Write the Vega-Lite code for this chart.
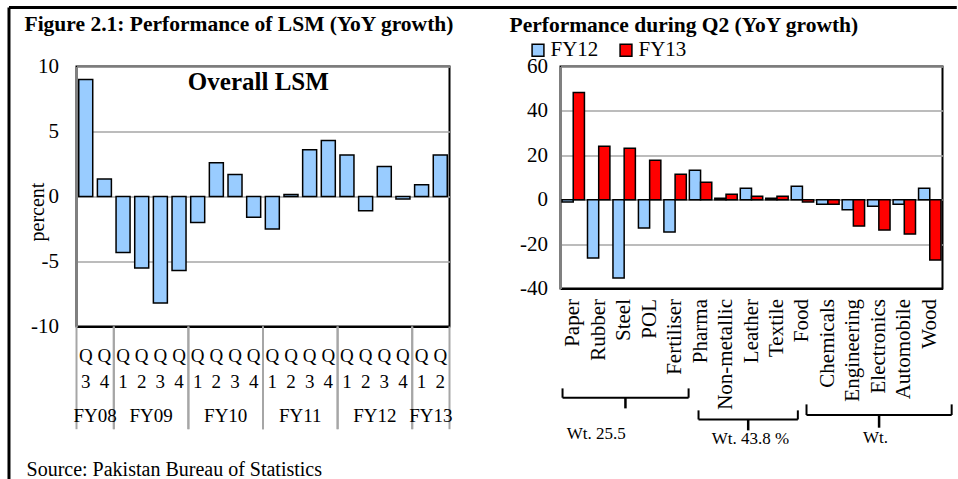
{
  "$schema": "https://vega.github.io/schema/vega-lite/v6.json",
  "padding": {"left": 5.5, "top": 4.5, "right": 0, "bottom": 0},
  "bounds": "flush",
  "spacing": 111,
  "background": "white",
  "resolve": {"legend": {"color": "independent"}},
  "config": {
    "font": "Liberation Serif",
    "view": {"stroke": "black", "strokeWidth": 2},
    "axis": {"labelFont": "Liberation Serif", "labelColor": "black", "titleFont": "Liberation Serif", "titleFontWeight": "normal", "titleColor": "black", "ticks": false, "domain": false},
    "legend": {"labelFont": "Liberation Serif", "labelColor": "black"},
    "title": {"font": "Liberation Serif", "fontWeight": "bold", "color": "black", "fontSize": 21.5, "anchor": "start", "frame": "group", "baseline": "bottom"}
  },
  "datasets": {
    "lsm": [
      {"period": "FY08 Q3", "growth": 9.0},
      {"period": "FY08 Q4", "growth": 1.35},
      {"period": "FY09 Q1", "growth": -4.3},
      {"period": "FY09 Q2", "growth": -5.5},
      {"period": "FY09 Q3", "growth": -8.2},
      {"period": "FY09 Q4", "growth": -5.7},
      {"period": "FY10 Q1", "growth": -2.0},
      {"period": "FY10 Q2", "growth": 2.6},
      {"period": "FY10 Q3", "growth": 1.7},
      {"period": "FY10 Q4", "growth": -1.6},
      {"period": "FY11 Q1", "growth": -2.5},
      {"period": "FY11 Q2", "growth": 0.15},
      {"period": "FY11 Q3", "growth": 3.6},
      {"period": "FY11 Q4", "growth": 4.3},
      {"period": "FY12 Q1", "growth": 3.2},
      {"period": "FY12 Q2", "growth": -1.1},
      {"period": "FY12 Q3", "growth": 2.3},
      {"period": "FY12 Q4", "growth": -0.2},
      {"period": "FY13 Q1", "growth": 0.9},
      {"period": "FY13 Q2", "growth": 3.2}
    ],
    "fygroups": [
      {"fy": "FY08", "from": 0, "to": 2, "mid": 1},
      {"fy": "FY09", "from": 2, "to": 6, "mid": 4},
      {"fy": "FY10", "from": 6, "to": 10, "mid": 8},
      {"fy": "FY11", "from": 10, "to": 14, "mid": 12},
      {"fy": "FY12", "from": 14, "to": 18, "mid": 16},
      {"fy": "FY13", "from": 18, "to": 20, "mid": 19}
    ],
    "q2": [
      {"industry": "Paper", "year": "FY12", "growth": -1.0},
      {"industry": "Paper", "year": "FY13", "growth": 48.3},
      {"industry": "Rubber", "year": "FY12", "growth": -26.3},
      {"industry": "Rubber", "year": "FY13", "growth": 24.1},
      {"industry": "Steel", "year": "FY12", "growth": -35.3},
      {"industry": "Steel", "year": "FY13", "growth": 23.2},
      {"industry": "POL", "year": "FY12", "growth": -12.8},
      {"industry": "POL", "year": "FY13", "growth": 17.8},
      {"industry": "Fertiliser", "year": "FY12", "growth": -14.6},
      {"industry": "Fertiliser", "year": "FY13", "growth": 11.5},
      {"industry": "Pharma", "year": "FY12", "growth": 13.3},
      {"industry": "Pharma", "year": "FY13", "growth": 7.9},
      {"industry": "Non-metallic", "year": "FY12", "growth": 0.7},
      {"industry": "Non-metallic", "year": "FY13", "growth": 2.5},
      {"industry": "Leather", "year": "FY12", "growth": 5.2},
      {"industry": "Leather", "year": "FY13", "growth": 1.6},
      {"industry": "Textile", "year": "FY12", "growth": 0.7},
      {"industry": "Textile", "year": "FY13", "growth": 1.6},
      {"industry": "Food", "year": "FY12", "growth": 6.1},
      {"industry": "Food", "year": "FY13", "growth": -1.0},
      {"industry": "Chemicals", "year": "FY12", "growth": -2.0},
      {"industry": "Chemicals", "year": "FY13", "growth": -2.0},
      {"industry": "Engineering", "year": "FY12", "growth": -4.5},
      {"industry": "Engineering", "year": "FY13", "growth": -11.9},
      {"industry": "Electronics", "year": "FY12", "growth": -2.9},
      {"industry": "Electronics", "year": "FY13", "growth": -13.7},
      {"industry": "Automobile", "year": "FY12", "growth": -2.0},
      {"industry": "Automobile", "year": "FY13", "growth": -15.5},
      {"industry": "Wood", "year": "FY12", "growth": 5.2},
      {"industry": "Wood", "year": "FY13", "growth": -27.2}
    ],
    "braces": [
      {"label": "Wt. 25.5", "start": 0.08, "end": 5.03, "mid": 2.55, "top": -85.0, "line": -89.2, "bot": -94.0, "lx": 1.4, "ly": -105.7},
      {"label": "Wt. 43.8 %", "start": 5.42, "end": 9.32, "mid": 7.37, "top": -94.9, "line": -99.0, "bot": -103.9, "lx": 7.46, "ly": -108.0},
      {"label": "Wt.", "start": 9.66, "end": 15.36, "mid": 12.51, "top": -92.2, "line": -97.0, "bot": -102.7, "lx": 12.37, "ly": -107.2}
    ],
    "one": [{}]
  },
  "hconcat": [
    {
      "width": 373,
      "height": 260,
      "title": {"text": "Figure 2.1: Performance of LSM (YoY growth)", "dx": -52, "offset": -30},
      "resolve": {"scale": {"x": "independent"}, "axis": {"x": "independent"}},
      "layer": [
        {
          "data": {"name": "lsm"},
          "mark": {"type": "bar", "fill": "#99CCFF", "stroke": "black", "strokeWidth": 1.5},
          "encoding": {
            "x": {"field": "period", "type": "nominal", "sort": null,
              "scale": {"paddingInner": 0.25, "paddingOuter": 0.12},
              "axis": {"title": null, "labelAngle": 0, "labelExpr": "['Q', substring(datum.value, 6, 7)]", "labelFontSize": 19, "labelLineHeight": 26, "labelPadding": 20, "domain": true, "domainColor": "black", "domainWidth": 2}},
            "y": {"field": "growth", "type": "quantitative",
              "scale": {"domain": [-10, 10], "nice": false},
              "axis": {"title": "percent", "values": [-10, -5, 0, 5, 10], "labelExpr": "'' + datum.value", "grid": true, "gridColor": "#a6a6a6", "gridWidth": 1.5, "labelFontSize": 21, "labelPadding": 18, "titleFontSize": 20, "titleX": -39, "titleY": 145, "titleBaseline": "middle", "domain": true, "domainColor": "#808080", "domainWidth": 2}}
          }
        },
        {
          "data": {"name": "fygroups"},
          "mark": {"type": "rule", "color": "#a6a6a6", "strokeWidth": 2},
          "encoding": {
            "x": {"field": "from", "type": "quantitative", "scale": {"domain": [0, 20], "nice": false}, "axis": null},
            "y": {"datum": -10, "scale": {"domain": [-10, 10], "nice": false}},
            "y2": {"datum": -17.9}
          }
        },
        {
          "data": {"name": "fygroups"},
          "mark": {"type": "rule", "color": "#a6a6a6", "strokeWidth": 2},
          "encoding": {
            "x": {"field": "to", "type": "quantitative", "scale": {"domain": [0, 20], "nice": false}, "axis": null},
            "y": {"datum": -10, "scale": {"domain": [-10, 10], "nice": false}},
            "y2": {"datum": -17.9}
          }
        },
        {
          "data": {"name": "fygroups"},
          "mark": {"type": "text", "fontSize": 19, "baseline": "middle", "color": "black"},
          "encoding": {
            "x": {"field": "mid", "type": "quantitative", "scale": {"domain": [0, 20], "nice": false}, "axis": null},
            "y": {"datum": -16.9, "scale": {"domain": [-10, 10], "nice": false}},
            "text": {"field": "fy"}
          }
        },
        {
          "data": {"name": "one"},
          "mark": {"type": "text", "fontSize": 25, "fontWeight": "bold", "baseline": "middle", "color": "black"},
          "encoding": {
            "x": {"datum": 9.75, "type": "quantitative", "scale": {"domain": [0, 20], "nice": false}, "axis": null},
            "y": {"datum": 8.77, "scale": {"domain": [-10, 10], "nice": false}},
            "text": {"value": "Overall LSM"}
          }
        },
        {
          "data": {"name": "one"},
          "mark": {"type": "text", "fontSize": 20, "baseline": "middle", "align": "left", "color": "black"},
          "encoding": {
            "x": {"datum": -2.68, "type": "quantitative", "scale": {"domain": [0, 20], "nice": false}, "axis": null},
            "y": {"datum": -21.0, "scale": {"domain": [-10, 10], "nice": false}},
            "text": {"value": "Source: Pakistan Bureau of Statistics"}
          }
        },
        {
          "data": {"name": "one"},
          "mark": {"type": "rule", "color": "black", "strokeWidth": 3},
          "encoding": {
            "x": {"datum": -3.62, "type": "quantitative", "scale": {"domain": [0, 20], "nice": false}, "axis": null},
            "x2": {"datum": 47.2},
            "y": {"datum": 14.54, "scale": {"domain": [-10, 10], "nice": false}}
          }
        },
        {
          "data": {"name": "one"},
          "mark": {"type": "rule", "color": "black", "strokeWidth": 3},
          "encoding": {
            "x": {"datum": -3.62, "type": "quantitative", "scale": {"domain": [0, 20], "nice": false}, "axis": null},
            "y": {"datum": 14.54, "scale": {"domain": [-10, 10], "nice": false}},
            "y2": {"datum": -21.85}
          }
        }
      ]
    },
    {
      "width": 382,
      "height": 222,
      "title": {"text": "Performance during Q2 (YoY growth)", "dx": -51, "offset": 3},
      "resolve": {"scale": {"x": "independent"}, "axis": {"x": "independent"}},
      "layer": [
        {
          "data": {"name": "q2"},
          "mark": {"type": "bar", "stroke": "black", "strokeWidth": 1.5},
          "encoding": {
            "x": {"field": "industry", "type": "nominal", "sort": null,
              "scale": {"paddingInner": 0.12, "paddingOuter": 0.06},
              "axis": {"title": null, "labelAngle": 270, "labelFontSize": 21, "labelPadding": 10, "domain": true, "domainColor": "black", "domainWidth": 2}},
            "xOffset": {"field": "year", "type": "nominal", "sort": null},
            "y": {"field": "growth", "type": "quantitative",
              "scale": {"domain": [-40, 60], "nice": false},
              "axis": {"title": null, "values": [-40, -20, 0, 20, 40, 60], "labelExpr": "'' + datum.value", "grid": true, "gridColor": {"condition": {"test": "datum.value === 0", "value": "#808080"}, "value": "#a6a6a6"}, "gridWidth": 1.5, "labelFontSize": 21, "labelPadding": 13, "domain": true, "domainColor": "#808080", "domainWidth": 2}},
            "color": {"field": "year", "type": "nominal",
              "scale": {"domain": ["FY12", "FY13"], "range": ["#99CCFF", "#FF0000"]},
              "legend": {"title": null, "orient": "none", "legendX": -33, "legendY": -27, "direction": "horizontal", "symbolType": "square", "symbolSize": 140, "symbolStrokeColor": "black", "symbolStrokeWidth": 1.5, "labelFontSize": 21, "columnPadding": 17, "labelOffset": 2}}
          }
        },
        {
          "data": {"name": "braces"},
          "mark": {"type": "rule", "color": "black", "strokeWidth": 2},
          "encoding": {
            "x": {"field": "start", "type": "quantitative", "scale": {"domain": [0, 15], "nice": false}, "axis": null},
            "x2": {"field": "end"},
            "y": {"field": "line", "type": "quantitative", "scale": {"domain": [-40, 60], "nice": false}}
          }
        },
        {
          "data": {"name": "braces"},
          "mark": {"type": "rule", "color": "black", "strokeWidth": 2},
          "encoding": {
            "x": {"field": "start", "type": "quantitative", "scale": {"domain": [0, 15], "nice": false}, "axis": null},
            "y": {"field": "top", "type": "quantitative", "scale": {"domain": [-40, 60], "nice": false}},
            "y2": {"field": "line"}
          }
        },
        {
          "data": {"name": "braces"},
          "mark": {"type": "rule", "color": "black", "strokeWidth": 2},
          "encoding": {
            "x": {"field": "end", "type": "quantitative", "scale": {"domain": [0, 15], "nice": false}, "axis": null},
            "y": {"field": "top", "type": "quantitative", "scale": {"domain": [-40, 60], "nice": false}},
            "y2": {"field": "line"}
          }
        },
        {
          "data": {"name": "braces"},
          "mark": {"type": "rule", "color": "black", "strokeWidth": 2.5},
          "encoding": {
            "x": {"field": "mid", "type": "quantitative", "scale": {"domain": [0, 15], "nice": false}, "axis": null},
            "y": {"field": "line", "type": "quantitative", "scale": {"domain": [-40, 60], "nice": false}},
            "y2": {"field": "bot"}
          }
        },
        {
          "data": {"name": "braces"},
          "mark": {"type": "text", "fontSize": 17, "baseline": "middle", "color": "black"},
          "encoding": {
            "x": {"field": "lx", "type": "quantitative", "scale": {"domain": [0, 15], "nice": false}, "axis": null},
            "y": {"field": "ly", "type": "quantitative", "scale": {"domain": [-40, 60], "nice": false}},
            "text": {"field": "label"}
          }
        }
      ]
    }
  ]
}
